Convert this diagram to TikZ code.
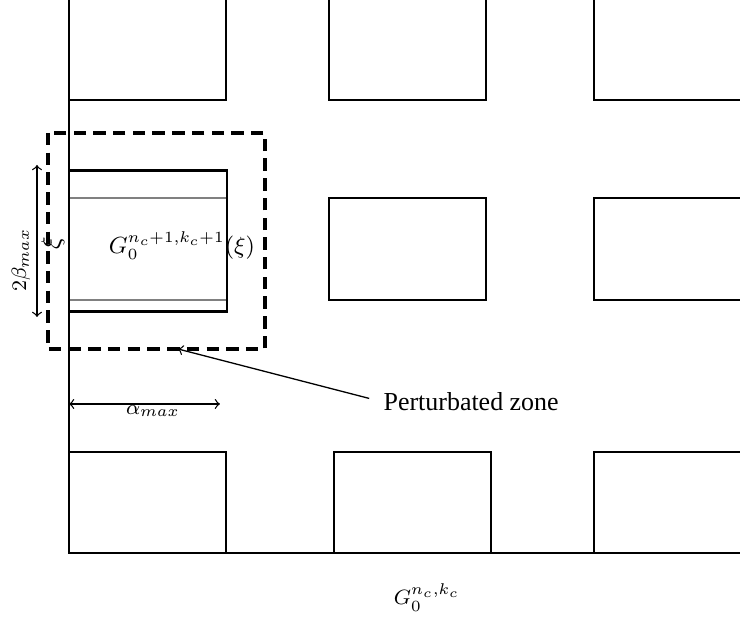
\documentclass[tikz,border=0pt]{standalone}
\usepackage{fontspec}
\setmainfont{Liberation Serif}
\begin{document}
\begin{tikzpicture}[x=0.01355cm,y=-0.01355cm,line width=0.5pt,mth/.style={font=\fontsize{8}{9.6}\selectfont}]
        \useasboundingbox (0,0) rectangle (740,620);
        \draw (69,0)--(69,553)--(760,553);
        \foreach \a/\b in {69/226,329/486,594/760} \draw (\a,0)--(\a,100)--(\b,100)--(\b,0);
        \foreach \a/\b in {329/486,594/760} \draw (\a,198) rectangle (\b,300);
        \foreach \a/\b in {69/226,334/491,594/760} \draw (\a,553)--(\a,452)--(\b,452)--(\b,553);
        \draw[gray] (69,198)--(227,198) (69,300)--(227,300);
        \draw[line width=1.15pt] (69,171) rectangle (227,312);
        \draw[line width=1.5pt,dash pattern=on 4.8pt off 2.8pt] (48,133) rectangle (265,349);
        \node[font=\fontsize{9}{10.8}\selectfont] (g)at(182,246){$G_0^{n_c+1,k_c+1}(\xi)$};
        \node[rotate=90] (xi)at(53,243){$\xi$};
        \node[mth,rotate=90] (beta)at(21,260){$2\beta_{max}$};
        \coordinate (b1)at(37,165); \coordinate (b2)at(37,317);
        \draw[<->] (b1)--(b2);
        \coordinate (a1)at(69,404); \coordinate (a2)at(220,404);
        \draw[<->] (a1)--(a2);
        \node[mth] (alpha)at(153,411){$\alpha_{max}$};
        \node[anchor=west,inner sep=0pt] (zone)at(383,402){Perturbated zone};
        \coordinate (hit)at(178,349);
        \draw[->,shorten <=11\pgflinewidth] (zone.west)--(hit);
        \node[mth] (g0)at(427,598){$G_0^{n_c,k_c}$};
    \end{tikzpicture}
\end{document}
